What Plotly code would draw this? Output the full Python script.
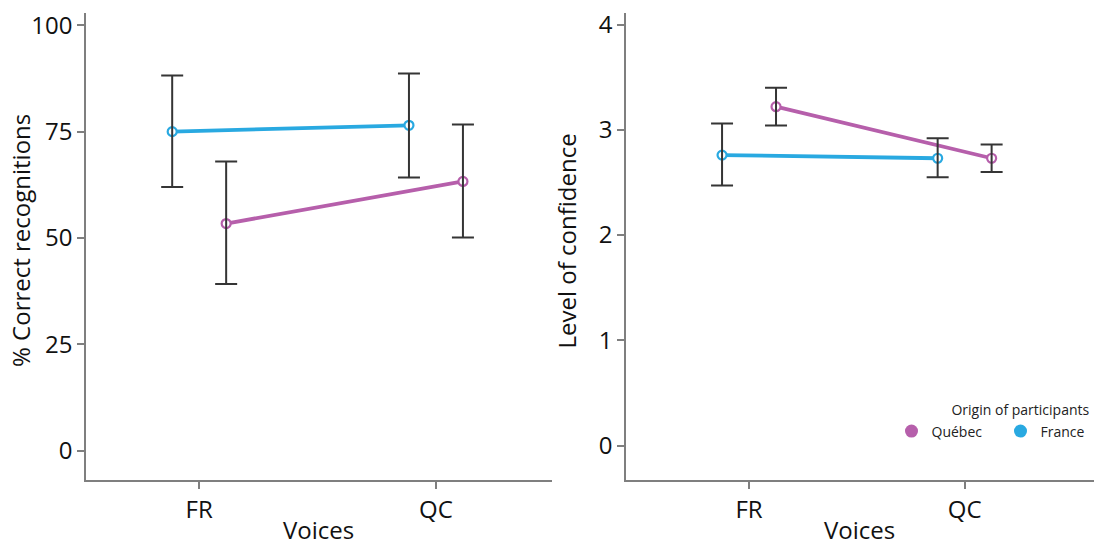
import plotly.graph_objects as go
from plotly.subplots import make_subplots
import numpy as np

# ---- data ----
voices = ["FR", "QC"]
origins = ["Québec", "France"]

recog_quebec = [53.4, 63.3]
recog_quebec_hi = [68.0, 76.7]
recog_quebec_lo = [39.2, 50.1]
recog_france = [75.0, 76.5]
recog_france_hi = [88.2, 88.7]
recog_france_lo = [62.0, 64.2]

conf_quebec = [3.22, 2.73]
conf_quebec_hi = [3.40, 2.86]
conf_quebec_lo = [3.04, 2.60]
conf_france = [2.76, 2.73]
conf_france_hi = [3.06, 2.92]
conf_france_lo = [2.47, 2.55]

y1_ticks = [0, 25, 50, 75, 100]
y2_ticks = [0, 1, 2, 3, 4]
y_titles = ["% Correct recognitions", "Level of confidence"]
x_title = "Voices"
legend_title = "Origin of participants"

# ---- style ----
COL = {"Québec": "#B65FAB", "France": "#29A9E1"}
ERR = "#353535"
AX = "#7F7F7F"
FONT = "Open Sans"

W, H = 1094, 544
ML, MR, MT, MB = 85.5, 0, 13.3, 64
pw = W - ML - MR
dom1 = [0, (551.7 - ML) / pw]
dom2 = [(625.7 - ML) / pw, 1.0]
x1r = [0.522, 2.49]
x2r = [0.429, 2.60]
y1r = [-6.9, 102.9]
y2r = [-0.327, 4.11]
dodge_px = 27

fig = make_subplots(rows=1, cols=2)

def add_panel(col, series, xr, dom):
    width_px = (dom[1] - dom[0]) * pw
    off = dodge_px * (xr[1] - xr[0]) / width_px
    xpos = np.arange(1, len(voices) + 1)
    for name, sign, vals, hi, lo in series:
        xs = xpos + sign * off
        v = np.array(vals); h = np.array(hi); l = np.array(lo)
        fig.add_trace(go.Scatter(x=xs, y=v, mode="lines",
                                 line=dict(color=COL[name], width=3.8),
                                 showlegend=False, hoverinfo="skip"), row=1, col=col)
        fig.add_trace(go.Scatter(x=xs, y=v, mode="markers",
                                 marker=dict(symbol="circle", size=9, color="white",
                                             line=dict(color=COL[name], width=2.2)),
                                 showlegend=False), row=1, col=col)
        fig.add_trace(go.Scatter(x=xs, y=v, mode="markers",
                                 marker=dict(size=1, opacity=0),
                                 error_y=dict(type="data", symmetric=False,
                                              array=h - v, arrayminus=v - l,
                                              color=ERR, thickness=2, width=11),
                                 showlegend=False, hoverinfo="skip"), row=1, col=col)

add_panel(1, [("Québec", 1, recog_quebec, recog_quebec_hi, recog_quebec_lo),
              ("France", -1, recog_france, recog_france_hi, recog_france_lo)], x1r, dom1)
add_panel(2, [("Québec", 1, conf_quebec, conf_quebec_hi, conf_quebec_lo),
              ("France", -1, conf_france, conf_france_hi, conf_france_lo)], x2r, dom2)

for name, lw in zip(origins, [64, 46]):
    fig.add_trace(go.Scatter(x=[None], y=[None], mode="markers", name=name,
                             legendwidth=lw,
                             marker=dict(symbol="circle", size=13, color=COL[name])),
                  row=1, col=2)

axis_common = dict(showline=True, linecolor=AX, linewidth=1.5, ticks="outside",
                   ticklen=7, tickwidth=1.5, tickcolor=AX, showgrid=False, zeroline=False,
                   ticklabeloverflow="allow", automargin=False,
                   tickfont=dict(family=FONT, size=24, color="#111"))

fig.update_xaxes(**axis_common, tickvals=[1, 2], ticktext=voices)
fig.update_yaxes(**axis_common)
fig.update_xaxes(range=x1r, domain=dom1, row=1, col=1)
fig.update_xaxes(range=x2r, domain=dom2, row=1, col=2)
fig.update_yaxes(range=y1r, tickvals=y1_ticks, row=1, col=1)
fig.update_yaxes(range=y2r, tickvals=y2_ticks, row=1, col=2)

annos = []
for i, (txt, shift) in enumerate(zip(y_titles, [-65.5, -59])):
    ax = "" if i == 0 else "2"
    annos.append(dict(text=txt, textangle=-90, showarrow=False,
                      xref=f"x{ax} domain", yref=f"y{ax} domain", x=0, y=0.5,
                      xshift=shift, yshift=6, xanchor="center", yanchor="middle",
                      font=dict(family=FONT, size=24, color="#111")))
    annos.append(dict(text=x_title, showarrow=False,
                      xref=f"x{ax} domain", yref=f"y{ax} domain", x=0.5, y=0,
                      yshift=-31, xanchor="center", yanchor="top",
                      font=dict(family=FONT, size=24, color="#111")))

fig.update_layout(
    width=W, height=H,
    margin=dict(l=ML, r=MR, t=MT, b=MB, pad=0, autoexpand=False),
    plot_bgcolor="white", paper_bgcolor="white",
    font=dict(family=FONT, color="#111"),
    annotations=annos,
    legend=dict(orientation="h", x=0.7991, xanchor="left", y=0.07, yanchor="bottom",
                title=dict(text=legend_title, side="top right",
                           font=dict(family=FONT, size=14, color="#222")),
                font=dict(family=FONT, size=14, color="#222"),
                itemwidth=30, bgcolor="rgba(0,0,0,0)", borderwidth=0),
)

fig.write_html("out.html", config={"displayModeBar": False},
               post_script="document.body.style.margin='0px';document.body.style.overflow='hidden';")
